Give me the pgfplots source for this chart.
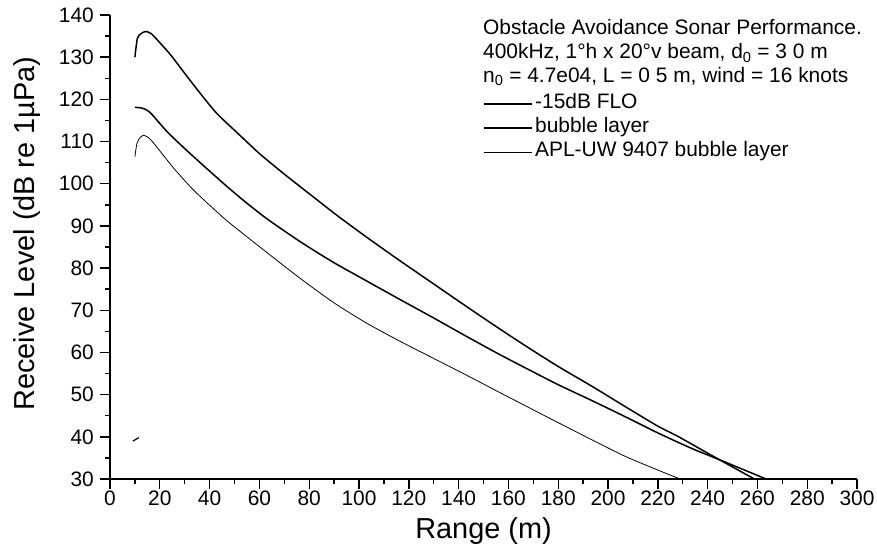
\documentclass[border=0pt]{standalone}
\usepackage{pgfplots}
\pgfplotsset{compat=1.18}
\usepackage{fontspec}
\setmainfont{Liberation Sans}
\begin{document}
\begin{tikzpicture}
\begin{axis}[
  name=ax,
  scale only axis,
  width=747bp, height=464bp,
  xmin=0, xmax=300, ymin=30, ymax=140,
  xtick distance=20, ytick distance=10,
  minor x tick num=1, minor y tick num=1,
  axis lines=left,
  axis line style={-, line width=1.6bp},
  tick align=outside,
  major tick length=10bp, minor tick length=5bp,
  every tick/.style={line width=1.4bp, black},
  xticklabel={\fontsize{21}{21}\selectfont\pgfmathprintnumber[assume math mode=true]{\tick}},
  yticklabel={\fontsize{21}{21}\selectfont\pgfmathprintnumber[assume math mode=true]{\tick}},
  xticklabel style={inner ysep=2bp},
  yticklabel style={inner xsep=6bp},
  xlabel={Range (m)},
  ylabel={Receive Level (dB re 1µPa)},
  label style={font=\fontsize{29}{29}\selectfont},
  xlabel style={at={(axis description cs:0.5,0)}, anchor=base, yshift=-59bp},
  ylabel style={at={(axis description cs:0,0.5)}, anchor=center, xshift=13.5bp, yshift=83bp},
  clip=false,
  legend style={at={(axis cs:149.8,122.1)}, anchor=north west, draw=none, fill=none,
    inner sep=0pt, row sep=0pt, font=\fontsize{21}{24}\selectfont,
    nodes={inner xsep=2.5bp, inner ysep=2.5bp, text height=15bp, text depth=4bp}},
  legend cell align=left,
  legend image code/.code={\draw[#1] (0bp,-1.5bp) -- (48bp,-1.5bp);},
]
\addplot[black, line width=1.5bp, smooth, tension=0.4] coordinates {
(10,130.0) (11,134.5) (12.5,135.6) (14.4,136.1) (16.5,135.6) (19,134.1) (24.4,130.5)
(29.7,126.4) (36.4,121.3) (43,116.6) (52.3,111.4) (60.3,107.0) (71,101.8) (81.6,96.9)
(91.6,92.3) (102.9,87.4) (116.3,81.8) (129.6,76.4) (142.9,71.0) (156.2,65.7) (168.9,60.8)
(180.2,56.6) (193.5,52.0) (206.8,47.2) (220.1,42.5) (228.1,40.1) (240.1,36.1) (250.8,32.6) (258.8,30.0)
};
\addlegendentry{-15dB FLO}
\addplot[black, line width=1.5bp, smooth, tension=0.4] coordinates {
(10,118.1) (12.4,118.0) (14,117.7) (16.4,116.7) (23,112.3) (29.7,108.5) (36.4,104.9)
(45.7,100.0) (53.7,96.0) (63,91.7) (76.3,86.3) (89.6,81.4) (102.9,77.0) (116.3,72.6)
(129.6,68.3) (142.9,63.9) (156.2,59.6) (168.9,55.7) (180.2,52.3) (193.5,48.6) (206.8,44.8)
(220.1,40.9) (233.4,37.3) (246.7,34.1) (263.5,30.0)
};
\addlegendentry{bubble layer}
\addplot[black, line width=0.8bp, smooth, tension=0.4] coordinates {
(10,106.4) (10.8,109.5) (12,110.9) (13.5,111.5) (15.5,110.9) (17.7,109.5) (25.7,103.6)
(33.7,98.4) (44.3,92.6) (49.7,89.9) (63,83.7) (76.3,77.6) (89.6,71.9) (102.9,67.0)
(116.3,62.7) (129.6,58.7) (142.9,54.7) (156.2,50.6) (168,47.0) (180.2,43.3) (193.5,39.3)
(206.8,35.4) (220.1,32.1) (229,30.0)
};
\addlegendentry{APL-UW 9407 bubble layer}
\addplot[black, line width=1.2bp, forget plot] coordinates {(9.2,39.0) (11.6,39.8)};
\node[anchor=north west, inner sep=0pt, align=left, font=\fontsize{21}{24}\selectfont]
  at (axis cs:149.8,138.9)
  {Obstacle Avoidance Sonar Performance.\\
   400kHz, 1°h x 20°v beam, d\textsubscript{0} = 3 0 m\\
   n\textsubscript{0} = 4.7e04, L = 0 5 m, wind = 16 knots};
\end{axis}
\pgfresetboundingbox
\useasboundingbox ([shift={(-110bp,-71bp)}]ax.south west) rectangle ([shift={(20bp,15bp)}]ax.north east);
\end{tikzpicture}
\end{document}
